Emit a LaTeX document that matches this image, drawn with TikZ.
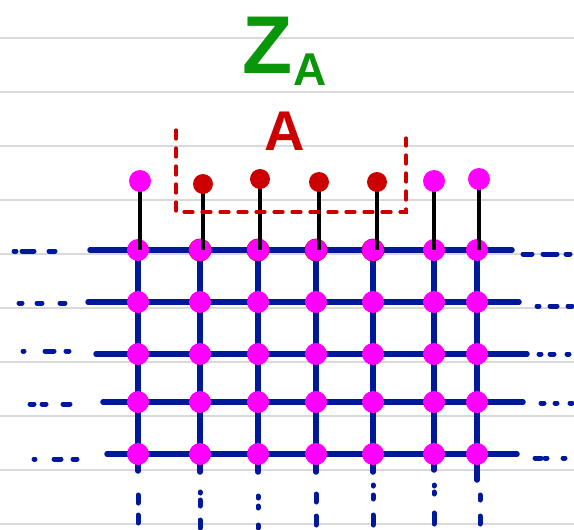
\documentclass[tikz,border=0pt]{standalone}
\usepackage{fontspec}
\setmainfont{Liberation Sans}
\definecolor{gridblue}{HTML}{00199A}
\definecolor{pinkdot}{HTML}{FF00FF}
\definecolor{reddot}{HTML}{CC0000}
\definecolor{zgreen}{HTML}{0A960A}
\definecolor{rulegrey}{HTML}{D9D9D9}
\tikzset{
  ruleline/.style={rulegrey, line width=2.2pt},
  gridline/.style={gridblue, line width=5.5pt, line cap=round},
  moreline/.style={gridblue, line width=5pt, line cap=round},
  stem/.style={black, line width=4.8pt},
  pinkblob/.style={fill=pinkdot},
  redblob/.style={fill=reddot},
  boxline/.style={reddot, line width=3.2pt, line cap=round, dash pattern=on 9pt off 9pt},
}
\begin{document}
\begin{tikzpicture}[x=1pt,y=-1pt]
\useasboundingbox (0,0) rectangle (574,530);
\fill[white] (0,0) rectangle (574,530);
% ruled paper
\foreach \y in {38,92,146,200,254,308,362,416,470,524}
  \draw[ruleline] (0,\y) -- (574,\y);
% grid coordinates
\foreach \x [count=\i] in {138,200,258,316,373,434,477}
  \foreach \y [count=\j] in {250,302,354,402,454}
    \coordinate (g\i\j) at (\x,\y);
% horizontal lines
\foreach \j/\a/\b in {1/90/512, 2/88/519, 3/96/527, 4/103/523, 5/107/517}
  \draw[gridline] (\a,0 |- g1\j) -- (\b,0 |- g1\j);
% vertical lines
\foreach \i/\e in {1/471, 2/472, 3/472, 4/472, 5/472, 6/470, 7/480}
  \draw[gridline] (g\i1) -- (g\i1 |- 0,\e);
% continuation marks left/right
\foreach \y/\a/\b in {251/14/16, 251/22/34, 251/49/55,
                      303/19/22, 303/37/42, 303/60/65,
                      351/23/24, 351/45/54, 351/66/69,
                      404/30/34, 404/42/46, 404/63/70,
                      459/34/35, 459/54/61, 459/73/77,
                      254/523/532, 254/543/557, 254/566/570,
                      306/537/539, 306/550/557, 306/568/572,
                      354/539/541, 354/550/554, 354/567/569,
                      403/541/544, 403/555/557, 403/570/572,
                      458/535/541, 458/545/547, 458/563/565}
  \draw[moreline] (\a,\y) -- (\b,\y);
% continuation marks below
\foreach \x/\a/\b in {138/495/503, 138/515/523,
                      200/492/493, 200/500/506, 200/520/528,
                      258/496/498, 258/506/508, 258/525/528,
                      316/494/502, 316/516/525,
                      373/485/486, 373/495/499, 373/515/525,
                      434/485/486, 434/492/494, 434/513/524,
                      480/495/500, 480/516/524}
  \draw[moreline] (\x,\a) -- (\x,\b);
% grid dots
\foreach \i in {2,...,5}
  \fill[redblob] (g\i1) circle (11.5pt);
\foreach \i in {1,...,7}
  \foreach \j in {1,...,5}
    \fill[pinkblob] (g\i\j) circle (11pt);
% stems and top dots
\foreach \i/\x/\y in {1/140/181, 2/203/184, 3/260/179, 4/319/182, 5/377/182, 6/434/181, 7/479/179}
  \coordinate (t\i) at (\x,\y);
\foreach \i in {1,...,7}
  \draw[stem] (t\i) -- (t\i |- g\i1);
\foreach \i in {1,6,7}
  \fill[pinkblob] (t\i) circle (11pt);
\foreach \i in {2,...,5}
  \fill[redblob] (t\i) circle (10pt);
% dashed box
\coordinate (b1) at (176,130);
\coordinate (b2) at (176,212);
\coordinate (b3) at (406,212);
\coordinate (b4) at (406,138);
\draw[boxline] (b1) -- (b2) -- (b3) -- (b4);
% labels
\node[anchor=base west, inner sep=0pt, text=zgreen] (za) at (242,74)
  {\fontsize{82}{82}\selectfont\bfseries Z\kern1pt\raisebox{-12pt}{\fontsize{46}{46}\selectfont A}};
\node[anchor=base, inner sep=0pt, text=reddot] (la) at (285,150)
  {\fontsize{56}{56}\selectfont\bfseries A};
\end{tikzpicture}
\end{document}
